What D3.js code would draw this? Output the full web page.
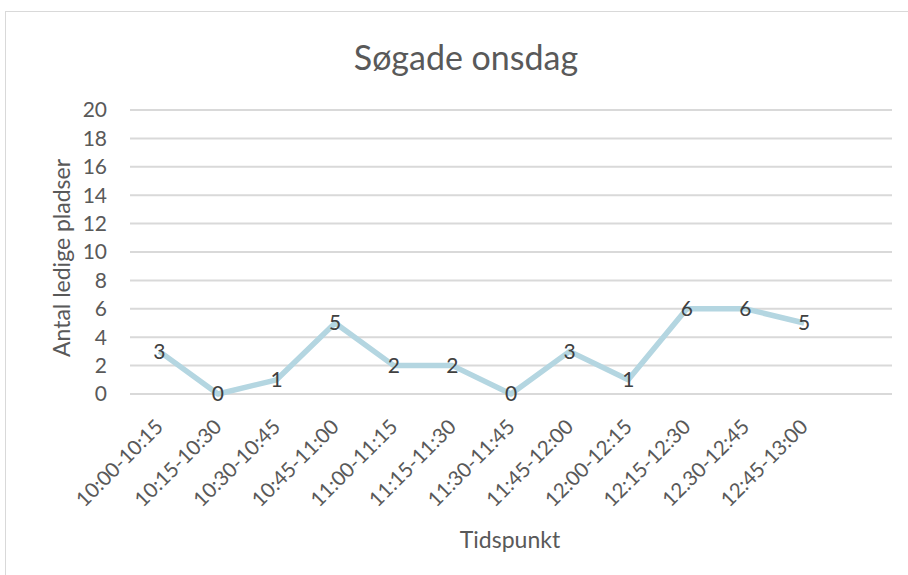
<!DOCTYPE html>
<html><head><meta charset="utf-8">
<script src="https://cdn.jsdelivr.net/npm/d3@7"></script>
<style>body{margin:0;background:#fff;}svg{display:block;font-family:Lato,"Open Sans",sans-serif;}</style>
</head><body>
<script>
const categories = ["10:00-10:15","10:15-10:30","10:30-10:45","10:45-11:00","11:00-11:15","11:15-11:30","11:30-11:45","11:45-12:00","12:00-12:15","12:15-12:30","12.30-12:45","12:45-13:00",""];
const values = [3,0,1,5,2,2,0,3,1,6,6,5];
const yTicks = [0,2,4,6,8,10,12,14,16,18,20];
const title = "Søgade onsdag";
const xTitle = "Tidspunkt";
const yTitle = "Antal ledige pladser";

const W = 908, H = 575;
const svg = d3.select("body").append("svg").attr("width", W).attr("height", H);
svg.append("rect").attr("x",5.5).attr("y",11.5).attr("width",W+10).attr("height",H+10)
  .attr("fill","#fff").attr("stroke","#d9d9d9");

const m = {left:130, right:892, top:110, bottom:394};
const x = d3.scaleBand().domain(categories.map((c,i)=>i)).range([m.left,m.right]);
const y = d3.scaleLinear().domain([0,20]).range([m.bottom,m.top]);

svg.append("g").selectAll("line").data(yTicks).join("line")
  .attr("x1",m.left).attr("x2",m.right)
  .attr("y1",d=>y(d)).attr("y2",d=>y(d))
  .attr("stroke","#d9d9d9").attr("stroke-width",2);

svg.append("g").selectAll("text").data(yTicks).join("text")
  .attr("x",107).attr("y",d=>y(d)).attr("dy","0.35em")
  .attr("text-anchor","end").attr("fill","#595959").attr("font-size",21).text(d=>d);

svg.append("g").selectAll("text").data(categories.slice(0,12)).join("text")
  .attr("transform",(d,i)=>`translate(${x(i)+x.bandwidth()/2},${m.bottom+29}) rotate(-45)`)
  .attr("text-anchor","end").attr("fill","#595959").attr("font-size",20.5)
  .attr("dy","0.35em").text(d=>d);

const line = d3.line().x((d,i)=>x(i)+x.bandwidth()/2).y(d=>y(d));
svg.append("path").datum(values).attr("d",line).attr("fill","none")
  .attr("stroke","#b4d6e1").attr("stroke-width",5.5).attr("stroke-linejoin","round");

svg.append("g").selectAll("text").data(values).join("text")
  .attr("x",(d,i)=>x(i)+x.bandwidth()/2).attr("y",d=>y(d)).attr("dy","0.35em")
  .attr("text-anchor","middle").attr("fill","#404040").attr("font-size",21).text(d=>d);

svg.append("text").attr("x",466).attr("y",58).attr("dy","0.35em").attr("text-anchor","middle")
  .attr("fill","#595959").attr("font-size",34).text(title);
svg.append("text").attr("x",510).attr("y",540).attr("dy","0.35em").attr("text-anchor","middle")
  .attr("fill","#595959").attr("font-size",23).text(xTitle);
svg.append("text").attr("transform","translate(62,258) rotate(-90)").attr("dy","0.35em")
  .attr("text-anchor","middle").attr("fill","#595959").attr("font-size",23).text(yTitle);
</script>
</body></html>
